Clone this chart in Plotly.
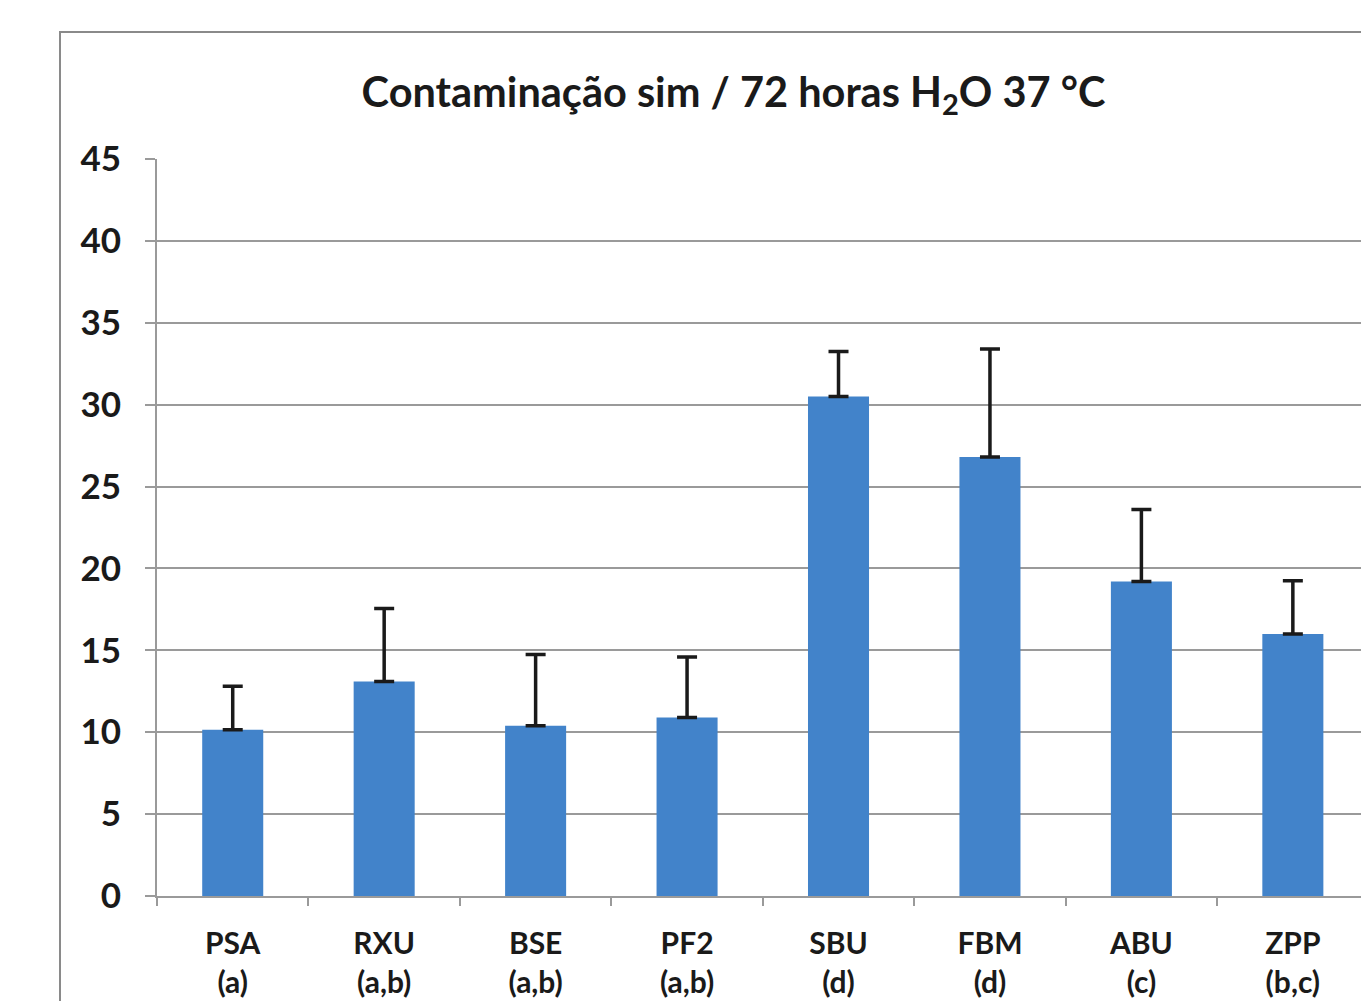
import plotly.graph_objects as go

categories = ["PSA<br>(a)", "RXU<br>(a,b)", "BSE<br>(a,b)", "PF2<br>(a,b)",
              "SBU<br>(d)", "FBM<br>(d)", "ABU<br>(c)", "ZPP<br>(b,c)"]
means = [10.15, 13.1, 10.4, 10.9, 30.5, 26.8, 19.2, 16.0]
errors_up = [2.65, 4.45, 4.35, 3.7, 2.75, 6.6, 4.4, 3.25]

TITLE = "Contaminação sim / 72 horas H<sub>2</sub>O 37 °C"
FONT = "Lato"
TXT = "#1a1a1a"
GRID = "#9a9a9a"

fig = go.Figure()
fig.add_trace(go.Bar(
    x=categories, y=means,
    marker=dict(color="#4283ca", line=dict(width=0)),
    error_y=dict(type="data", symmetric=False, array=errors_up,
                 arrayminus=[0] * len(means), color=TXT, thickness=3.5, width=10),
))

W, H = 1361, 1001
ml, mt, mb = 157, 159, 105
pw = W - ml
ph = H - mt - mb

fig.update_layout(
    width=W, height=H,
    margin=dict(l=ml, r=0, t=mt, b=mb, pad=0),
    paper_bgcolor="white", plot_bgcolor="white",
    showlegend=False,
    bargap=0.597,
    font=dict(family=FONT, color=TXT),
    title=dict(text=TITLE, x=733.5 / W, xanchor="center", y=1 - 92 / H,
               yanchor="middle", xref="container", yref="container",
               font=dict(family=FONT, size=41.5, weight="bold", color=TXT)),
    xaxis=dict(range=[-0.5, 7.45], tickson="boundaries", ticks="outside",
               ticklen=8, tickwidth=2, tickcolor=GRID, showgrid=False,
               showline=True, linecolor=GRID, linewidth=2,
               tickfont=dict(family=FONT, size=30, weight="bold", color=TXT),
               ticklabelstandoff=20, fixedrange=True),
    yaxis=dict(range=[0, 45], dtick=5, tick0=0, ticks="outside", ticklen=10,
               tickwidth=2, tickcolor=GRID, showgrid=True, gridcolor=GRID,
               gridwidth=2, showline=True, linecolor=GRID, linewidth=2,
               zeroline=False,
               tickfont=dict(family=FONT, size=35, weight="bold", color=TXT),
               ticklabelstandoff=17),
    shapes=[dict(type="rect", xref="paper", yref="paper",
                 x0=(60 - ml) / pw, x1=1.1, y0=-0.3, y1=(H - mb - 32) / ph,
                 line=dict(color="#8a8a8a", width=2), layer="below")],
)

fig.write_html(
    "out.html",
    config={"displayModeBar": False},
    post_script="document.body.style.margin='0';document.body.style.overflow='hidden';",
)
